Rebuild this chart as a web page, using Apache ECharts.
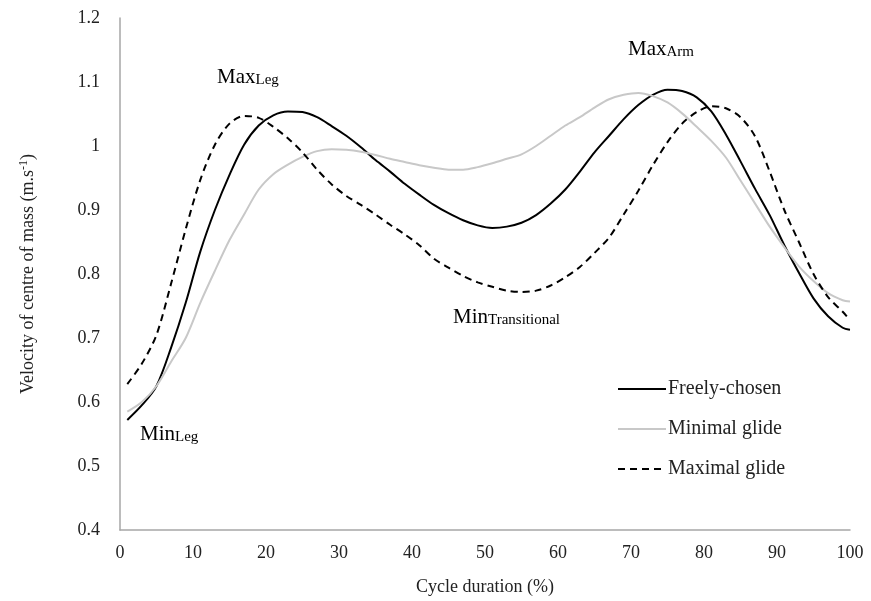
<!DOCTYPE html>
<html><head><meta charset="utf-8">
<script src="https://cdn.jsdelivr.net/npm/echarts@6/dist/echarts.min.js"></script>
<style>html,body{margin:0;padding:0;background:#fff}#c{width:871px;height:601px}</style>
</head><body><div id="c"></div>
<script>
const xs = [1,3,5,7,9,11,13,15,17,19,21,23,25,27,29,31,33,35,37,39,41,43,45,47,49,51,53,55,57,59,61,63,65,67,69,71,73,75,77,79,81,83,85,87,89,91,93,95,97,99,100];
const freely = [0.572,0.595,0.625,0.685,0.755,0.835,0.900,0.955,1.002,1.032,1.048,1.054,1.053,1.045,1.031,1.016,0.998,0.978,0.960,0.941,0.924,0.908,0.895,0.884,0.876,0.872,0.874,0.880,0.892,0.910,0.932,0.960,0.990,1.016,1.042,1.064,1.080,1.088,1.086,1.076,1.054,1.018,0.976,0.933,0.892,0.845,0.802,0.762,0.734,0.716,0.713];
const minimal = [0.585,0.600,0.625,0.663,0.700,0.755,0.805,0.853,0.893,0.932,0.956,0.971,0.983,0.992,0.995,0.994,0.991,0.986,0.980,0.975,0.970,0.966,0.963,0.963,0.967,0.973,0.980,0.987,1.000,1.016,1.032,1.045,1.060,1.073,1.080,1.083,1.078,1.068,1.051,1.030,1.008,0.982,0.946,0.910,0.874,0.842,0.812,0.789,0.770,0.759,0.757];
const maximal = [0.628,0.660,0.705,0.785,0.870,0.947,1.002,1.035,1.047,1.044,1.030,1.012,0.990,0.963,0.940,0.922,0.908,0.893,0.877,0.862,0.845,0.824,0.810,0.797,0.787,0.780,0.774,0.772,0.774,0.782,0.795,0.811,0.833,0.857,0.893,0.930,0.970,1.006,1.035,1.053,1.062,1.059,1.045,1.015,0.960,0.900,0.850,0.800,0.764,0.741,0.728];
const seriesNames = ['Freely-chosen','Minimal glide','Maximal glide'];
const xTicks = [0,10,20,30,40,50,60,70,80,90,100];
const yTicks = [0.4,0.5,0.6,0.7,0.8,0.9,1.0,1.1,1.2];

const FONT = '"Liberation Serif", "Times New Roman", serif';
const pair = arr => xs.map((x,i)=>[x,arr[i]]);
const chart = echarts.init(document.getElementById('c'));
const rich = {
  big: {fontFamily: FONT, fontSize: 21, color: '#222'},
  small: {fontFamily: FONT, fontSize: 15, color: '#222', padding: [5,0,0,0]}
};
function ann(left, top, a, b){
  return {type:'text', left:left, top:top, style:{text:'{big|'+a+'}{small|'+b+'}', rich:rich}};
}
chart.setOption({
  animation:false,
  grid:{left:120,right:21,top:18,bottom:71},
  xAxis:{type:'value',min:0,max:100,interval:10,
    axisLine:{lineStyle:{color:'#a6a6a6',width:1.5}},axisTick:{show:false},splitLine:{show:false},
    axisLabel:{fontFamily:FONT,fontSize:18,color:'#222',margin:14,formatter:v=>xTicks.includes(v)?String(v):''},
    name:'Cycle duration (%)',nameLocation:'middle',nameGap:48,
    nameTextStyle:{fontFamily:FONT,fontSize:18,color:'#222'}},
  yAxis:{type:'value',min:0.4,max:1.2,interval:0.1,
    axisLine:{show:true,lineStyle:{color:'#a6a6a6',width:1.5}},axisTick:{show:false},splitLine:{show:false},
    axisLabel:{fontFamily:FONT,fontSize:18,color:'#222',margin:20,
      formatter:v=>{const t=yTicks.find(y=>Math.abs(y-v)<1e-6);return t===undefined?'':String(Math.round(t*10)/10);}},
    name:'{n|Velocity of centre of mass (m.s}{s|-1}{n|)}',nameLocation:'middle',nameGap:82,
    nameTextStyle:{rich:{n:{fontFamily:FONT,fontSize:18,color:'#222'},s:{fontFamily:FONT,fontSize:12,color:'#222',verticalAlign:'top',padding:[0,0,8,0]}}}},
  legend:{orient:'vertical',left:612,top:374,itemWidth:48,itemHeight:12,itemGap:20,
    itemStyle:{opacity:0},
    data:seriesNames,textStyle:{fontFamily:FONT,fontSize:20,color:'#222',padding:[0,0,0,-3]}},
  series:[
    {name:seriesNames[0],type:'line',data:pair(freely),smooth:0.3,symbol:'none',lineStyle:{color:'#000',width:2}},
    {name:seriesNames[1],type:'line',data:pair(minimal),smooth:0.3,symbol:'none',lineStyle:{color:'#c8c8c8',width:2}},
    {name:seriesNames[2],type:'line',data:pair(maximal),smooth:0.3,symbol:'none',lineStyle:{color:'#000',width:2,type:[7,5]}}
  ],
  graphic:[
    ann(217,67,'Max','Leg'),
    ann(628,39,'Max','Arm'),
    ann(453,307,'Min','Transitional'),
    ann(140,424,'Min','Leg')
  ]
});
</script></body></html>
